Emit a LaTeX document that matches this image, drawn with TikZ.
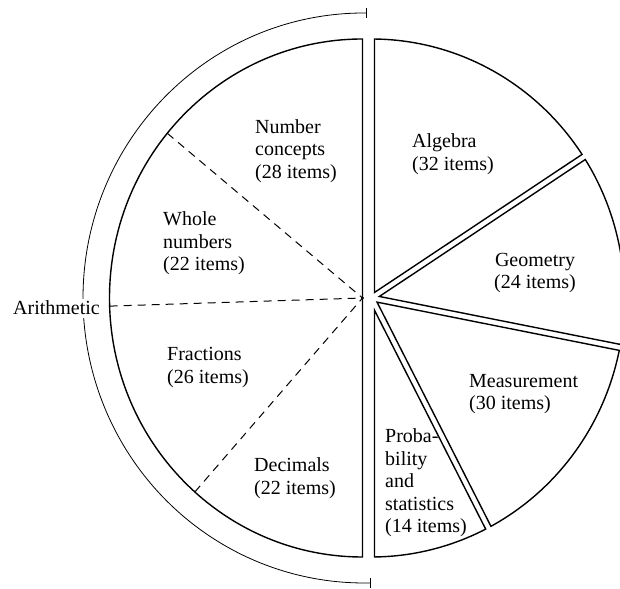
\documentclass[tikz,border=0pt]{standalone}
\usepackage{fontspec}
\setmainfont{Liberation Serif}
\usetikzlibrary{calc}
\begin{document}
\begin{tikzpicture}[x=1pt,y=1pt,
  outline/.style={line width=1.4pt, line join=miter},
  divider/.style={line width=1pt, dash pattern=on 8pt off 6pt},
  bracket/.style={line width=0.8pt},
  lbl/.style={inner sep=0pt, font={\fontsize{20}{22.5}\selectfont}, align=left, anchor=west},
]
\useasboundingbox (0,0) rectangle (620,588);
\clip (0,0) rectangle (620,588);
\def\rx{253}
\def\ry{259}
\def\halfgap{3}
\coordinate (L) at (362.5,290);
\coordinate (R) at (371.5,290);
\coordinate (A) at (364,290);

% Arithmetic half: one semicircle split by dashed radii
\draw[outline] ($(L)+(90:\rx pt and \ry pt)$)
  arc[start angle=90,end angle=270,x radius=\rx pt,y radius=\ry pt] -- cycle;
\foreach \t in {140.5,181.8,228.5}
  \draw[divider] ($(L)+(\t:\rx pt and \ry pt)$) -- (L);
\fill (L) circle[radius=1.6pt];

% Other strands: separate sectors with a narrow gap between them
\foreach \a/\b in {90/33, 33/-11, -11/-62.5, -62.5/-90} {
  \pgfmathsetmacro\midang{(\a+\b)/2}
  \pgfmathsetmacro\apoff{\halfgap/sin((\a-\b)/2)}
  \pgfmathsetmacro\angS{\a-\halfgap/256*180/pi}
  \pgfmathsetmacro\angE{\b+\halfgap/256*180/pi}
  \draw[outline] ($(R)+(\midang:\apoff pt)$) -- ($(R)+(\angS:\rx pt and \ry pt)$)
    arc[start angle=\angS, end angle=\angE, x radius=\rx pt, y radius=\ry pt] -- cycle;
}

% bracket around the Arithmetic half
\draw[bracket] ($(A)+(89.6:281pt and 285pt)$) coordinate (atop)
  arc[start angle=89.6, end angle=271.4, x radius=281pt, y radius=285pt] coordinate (abot);
\draw[bracket] ($(atop)+(0,5)$) -- ($(atop)+(0,-5)$);
\draw[bracket] ($(abot)+(0,5)$) -- ($(abot)+(0,-5)$);

% labels
\node[lbl] (numconc) at (255,437) {Number\\concepts\\(28 items)};
\node[lbl] (whole) at (163,344.5) {Whole\\numbers\\(22 items)};
\node[lbl] (frac) at (167,220.5) {Fractions\\(26 items)};
\node[lbl] (dec) at (254,110) {Decimals\\(22 items)};
\node[lbl] (alg) at (412,434) {Algebra\\(32 items)};
\node[lbl, align=center, anchor=center] (geo) at (535,315) {Geometry\\(24 items)};
\node[lbl] (meas) at (469,194) {Measurement\\(30 items)};
\node[lbl] (prob) at (385,105) {Proba-\\bility\\and\\statistics\\(14 items)};
\node[lbl, anchor=base west, fill=white, inner sep=2.5pt] (arith) at (10.5,273) {Arithmetic};
\end{tikzpicture}
\end{document}
